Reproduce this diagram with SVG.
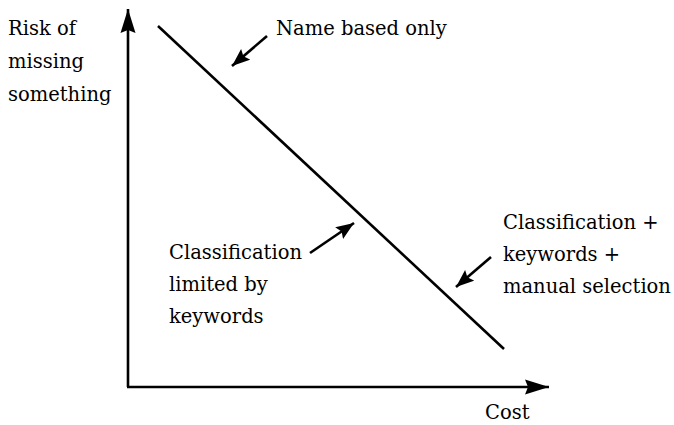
<svg xmlns="http://www.w3.org/2000/svg" width="674" height="425" viewBox="0 0 674 425">
  <style>
    text { font-family: "DejaVu Serif", "Liberation Serif", serif; font-size: 19.5px; fill: #000; }
    .ln { stroke: #000; stroke-width: 2.6; fill: none; }
  </style>
  <defs>
    <marker id="big" markerUnits="userSpaceOnUse" markerWidth="26" markerHeight="16" refX="24" refY="8" orient="auto">
      <path d="M0,0.5 L24,8 L0,15.5 L3,8 Z" fill="#000"/>
    </marker>
    <marker id="small" markerUnits="userSpaceOnUse" markerWidth="19" markerHeight="14" refX="18" refY="7" orient="auto">
      <path d="M0,0 L18,7 L0,14 L3,7 Z" fill="#000"/>
    </marker>
  </defs>
  <rect width="674" height="425" fill="#fff"/>
  <g id="connectors">
    <line class="ln" x1="128" y1="387" x2="128" y2="9" marker-end="url(#big)"/>
    <line class="ln" x1="127" y1="387" x2="549" y2="387" marker-end="url(#big)"/>
    <line class="ln" x1="158" y1="26" x2="504" y2="349"/>
    <line class="ln" x1="267" y1="36" x2="232" y2="66" marker-end="url(#small)"/>
    <line class="ln" x1="310" y1="253" x2="354" y2="223" marker-end="url(#small)"/>
    <line class="ln" x1="491" y1="257" x2="456" y2="287" marker-end="url(#small)"/>
  </g>
  <g id="y-label">
    <text x="8" y="35">Risk of</text>
    <text x="8" y="68">missing</text>
    <text x="8" y="101">something</text>
  </g>
  <g id="x-label">
    <text x="485" y="419">Cost</text>
  </g>
  <g id="name-based">
    <text x="276" y="35">Name based only</text>
  </g>
  <g id="classification-limited">
    <text x="169" y="259">Classification</text>
    <text x="169" y="291">limited by</text>
    <text x="169" y="323">keywords</text>
  </g>
  <g id="classification-manual">
    <text x="503" y="229">Classification +</text>
    <text x="503" y="261">keywords +</text>
    <text x="503" y="293">manual selection</text>
  </g>
</svg>
